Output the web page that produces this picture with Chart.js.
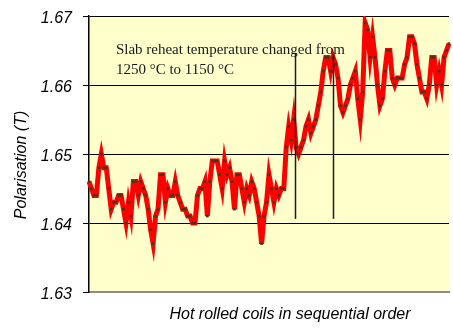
<!DOCTYPE html>
<html>
<head>
<meta charset="utf-8">
<script src="https://cdn.jsdelivr.net/npm/chart.js@4.4.1/dist/chart.umd.min.js"></script>
<style>
  body { margin: 0; background: #ffffff; }
  #wrap { width: 453px; height: 334px; }
</style>
</head>
<body>
<div id="wrap"><canvas id="chartPolarisation" width="453" height="334"></canvas></div>
<script>
// Polarisation per coil, in rolling order
const polarisacion = [
    1.646, 1.645, 1.644, 1.644, 1.648, 1.650, 1.648, 1.648, 1.645, 1.642,
    1.643, 1.643, 1.644, 1.644, 1.642, 1.640, 1.643, 1.641, 1.646, 1.646,
    1.644, 1.646, 1.645, 1.644, 1.642, 1.639, 1.637, 1.641, 1.642, 1.647,
    1.647, 1.643, 1.645, 1.644, 1.644, 1.646, 1.644, 1.643, 1.642, 1.642,
    1.641, 1.641, 1.640, 1.640, 1.644, 1.645, 1.645, 1.646, 1.641, 1.646,
    1.649, 1.649, 1.649, 1.647, 1.645, 1.649, 1.647, 1.648, 1.646, 1.642,
    1.647, 1.647, 1.645, 1.643, 1.645, 1.644, 1.646, 1.645, 1.643, 1.641,
    1.637, 1.641, 1.643, 1.647, 1.645, 1.643, 1.645, 1.644, 1.645, 1.645,
    1.651, 1.654, 1.652, 1.655, 1.651, 1.650, 1.651, 1.652, 1.654, 1.655,
    1.653, 1.654, 1.655, 1.657, 1.659, 1.662, 1.664, 1.664, 1.662, 1.664,
    1.663, 1.661, 1.657, 1.656, 1.657, 1.658, 1.660, 1.661, 1.662, 1.658,
    1.655, 1.659, 1.669, 1.668, 1.664, 1.667, 1.664, 1.660, 1.657, 1.658,
    1.662, 1.665, 1.665, 1.661, 1.660, 1.661, 1.661, 1.661, 1.663, 1.664,
    1.667, 1.667, 1.666, 1.663, 1.661, 1.659, 1.659, 1.658, 1.660, 1.664,
    1.664, 1.660, 1.662, 1.660, 1.664, 1.665, 1.666
];
const bobinas = polarisacion.map((_, i) => i + 1);

// y axis
const ejeMin = 1.63;
const ejeMax = 1.67;
const ejePaso = 0.01;

// where the reheat temperature change is marked (coil index) and the span of the marker lines
const marcasCambio = [83.6, 99.0];
const marcaArriba = 1.6645;
const marcaAbajo = 1.6406;

const notaTexto = ['Slab reheat temperature changed from', '1250 \u00b0C to 1150 \u00b0C'];
const notaPos = { x: 10.9, y: 1.6651 };

const tituloY = 'Polarisation (T)';
const tituloX = 'Hot rolled coils in sequential order';

// Plot background + reheat note and marker lines
const fondoYNotas = {
    id: 'fondoYNotas',
    beforeDraw(chart) {
        const { ctx, chartArea: a } = chart;
        ctx.save();
        ctx.fillStyle = '#FFFFCC';
        ctx.fillRect(a.left, a.top, a.right - a.left, a.bottom - a.top);
        ctx.restore();
    },
    afterDatasetsDraw(chart) {
        const { ctx, scales: { x, y } } = chart;
        ctx.save();
        ctx.strokeStyle = '#1a1a1a';
        ctx.lineWidth = 1.5;
        marcasCambio.forEach(m => {
            const px = Math.round(x.getPixelForValue(m)) + 0.5;
            ctx.beginPath();
            ctx.moveTo(px, y.getPixelForValue(marcaArriba));
            ctx.lineTo(px, y.getPixelForValue(marcaAbajo));
            ctx.stroke();
        });
        ctx.fillStyle = '#1a1a1a';
        ctx.font = '15px "Liberation Serif", "Times New Roman", serif';
        ctx.textBaseline = 'middle';
        const tx = x.getPixelForValue(notaPos.x);
        const ty = y.getPixelForValue(notaPos.y);
        notaTexto.forEach((t, i) => ctx.fillText(t, tx, ty + i * 20));
        ctx.restore();
    },
    afterDraw(chart) {
        const { ctx, chartArea: a } = chart;
        ctx.save();
        ctx.fillStyle = '#000';
        ctx.font = 'italic 16px "Liberation Sans", Arial, sans-serif';
        ctx.textAlign = 'center';
        ctx.textBaseline = 'middle';
        ctx.fillText(tituloX, 290, a.bottom + 23);
        ctx.translate(22, 165);
        ctx.rotate(-Math.PI / 2);
        ctx.fillText(tituloY, 0, 0);
        ctx.restore();
    }
};

const ctxPol = document.getElementById('chartPolarisation').getContext('2d');
new Chart(ctxPol, {
    type: 'line',
    data: {
        labels: bobinas,
        datasets: [{
            label: 'Polarisation',
            data: polarisacion,
            borderColor: '#FF0000',
            borderWidth: 5,
            tension: 0,
            pointStyle: 'rect',
            pointRadius: 1.8,
            pointBorderWidth: 0,
            pointBackgroundColor: '#403818'
        }]
    },
    options: {
        responsive: false,
        animation: false,
        devicePixelRatio: 1,
        layout: { padding: { top: 16, right: 0, bottom: 0, left: 0 } },
        plugins: {
            legend: { display: false },
            tooltip: { enabled: false }
        },
        scales: {
            x: {
                type: 'category',
                offset: false,
                ticks: { display: false },
                grid: { display: false, drawTicks: false },
                border: { display: true, color: '#8c8c8c', width: 2 },
                afterFit: (s) => { s.height = 42; s.paddingLeft = 0; s.paddingRight = 0; }
            },
            y: {
                min: ejeMin,
                max: ejeMax,
                ticks: {
                    stepSize: ejePaso,
                    color: '#000',
                    padding: 11,
                    labelOffset: 3,
                    font: { family: '"Liberation Sans", Arial, sans-serif', size: 16, style: 'italic' },
                    callback: v => v.toFixed(2)
                },
                grid: {
                    color: c => (c.tick && c.tick.value <= ejeMin + 1e-9) ? '#8c8c8c' : '#000',
                    lineWidth: 1,
                    tickLength: 6,
                    tickColor: '#000'
                },
                border: { display: true, color: '#000', width: 1.5 },
                afterFit: (s) => { s.width = 89; s.paddingTop = 0; s.paddingBottom = 0; }
            }
        }
    },
    plugins: [fondoYNotas]
});
</script>
</body>
</html>
